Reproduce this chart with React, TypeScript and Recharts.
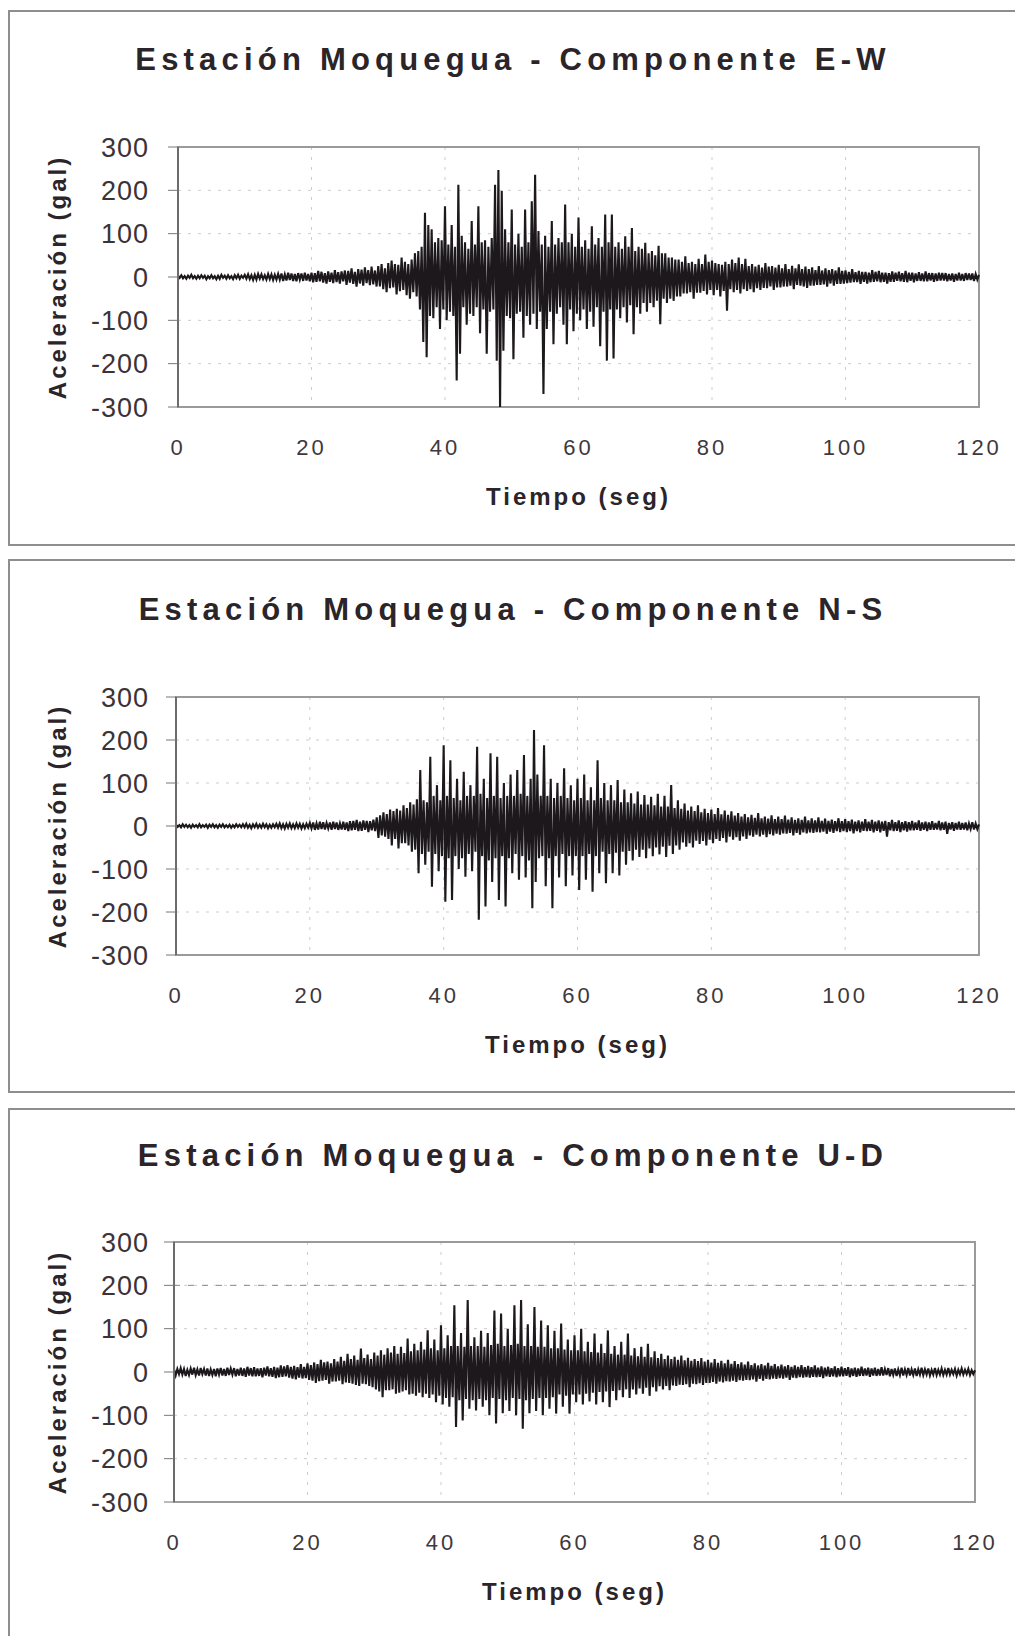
import { LineChart, Line, XAxis, YAxis, CartesianGrid, ReferenceArea, ReferenceLine } from 'recharts'

// sample step of the hand-read traces, in seconds
const STEP = 0.25

const timeTicks = [0, 20, 40, 60, 80, 100, 120]
const accelTicks = [-300, -200, -100, 0, 100, 200, 300]

const titles = [
  'Estación Moquegua - Componente E-W',
  'Estación Moquegua - Componente N-S',
  'Estación Moquegua - Componente U-D',
]

// E-W acceleration (gal), one value every 0.25 s, 5 s per row
const ewValues = [
  3, -2, 4, -3, 2, -4, 3, -2, 5, -3, 2, -4, 3, -3, 4, -2, 3, -5, 2, -3,
  4, -3, 2, -5, 3, -4, 5, -2, 3, -4, 4, -3, 2, -5, 4, -3, 5, -4, 3, -2,
  5, -4, 6, -5, 4, -7, 5, -6, 7, -4, 6, -5, 4, -6, 7, -5, 6, -7, 5, -6,
  7, -6, 8, -9, 6, -8, 10, -7, 8, -9, 7, -10, 9, -6, 8, -9, 10, -8, 7, -10,
  10, -12, 9, -11, 14, -10, 12, -13, 9, -15, 13, -11, 10, -14, 16, -12, 11, -15, 13, -10,
  15, -18, 14, -13, 20, -16, 12, -22, 18, -15, 17, -20, 22, -14, 16, -19, 24, -17, 15, -22,
  25, -22, 30, -28, 20, -35, 32, -26, 38, -24, 30, -40, 28, -33, 45, -30, 35, -42, 30, -50,
  40, -35, 55, -45, 60, -75, 70, -150, 148, -185, 120, -90, 110, -95, 80, -70, 90, -120, 85, -75,
  163, -100, 75, -80, 120, -90, 70, -239, 213, -177, 95, -70, 80, -110, 65, -85, 129, -90, 75, -70,
  163, -130, 80, -75, 85, -177, 70, -80, 90, -75, 213, -193, 247, -300, 199, -170, 110, -90, 80, -95,
  156, -190, 75, -85, 100, -80, 70, -140, 156, -90, 80, -110, 175, -85, 236, -120, 106, -80, 75, -270,
  95, -120, 70, -80, 129, -155, 75, -85, 90, -70, 80, -110, 167, -155, 80, -75, 100, -125, 70, -85,
  137, -100, 70, -75, 85, -120, 65, -80, 117, -115, 75, -70, 90, -160, 70, -80, 144, -193, 80, -75,
  144, -188, 70, -75, 80, -95, 65, -70, 94, -105, 70, -65, 113, -132, 60, -70, 70, -85, 65, -60,
  79, -80, 55, -60, 60, -70, 50, -55, 72, -109, 55, -50, 55, -60, 45, -50, 45, -55, 40, -45,
  40, -45, 35, -38, 48, -38, 32, -35, 35, -50, 30, -36, 42, -36, 30, -32, 52, -40, 35, -30,
  38, -42, 32, -30, 30, -45, 28, -32, 35, -78, 30, -28, 40, -35, 32, -30, 45, -38, 30, -28,
  42, -32, 25, -28, 30, -35, 24, -26, 28, -30, 22, -25, 32, -26, 24, -22, 25, -30, 22, -24,
  28, -24, 20, -22, 30, -22, 18, -20, 26, -28, 20, -18, 29, -20, 18, -22, 24, -25, 18, -20,
  22, -20, 16, -18, 25, -18, 15, -17, 20, -22, 16, -15, 18, -20, 15, -16, 22, -16, 14, -15,
  15, -14, 12, -13, 18, -12, 11, -12, 14, -16, 12, -11, 12, -15, 10, -12, 16, -11, 12, -10,
  14, -12, 10, -11, 10, -15, 9, -11, 13, -11, 10, -9, 12, -10, 9, -11, 14, -12, 10, -9,
  10, -12, 8, -9, 11, -9, 8, -10, 13, -10, 9, -8, 9, -11, 8, -9, 10, -8, 9, -8,
  9, -10, 7, -8, 8, -11, 7, -8, 10, -8, 7, -9, 9, -7, 8, -7, 8, -9, 7, -6,
  5,
]

// N-S acceleration (gal)
const nsValues = [
  3, -2, 2, -3, 4, -2, 3, -3, 2, -4, 3, -2, 2, -3, 4, -3, 2, -2, 3, -4,
  3, -2, 4, -3, 2, -4, 3, -2, 4, -3, 2, -3, 3, -4, 2, -3, 4, -2, 3, -3,
  4, -3, 5, -4, 3, -5, 4, -3, 5, -4, 3, -4, 5, -3, 4, -5, 3, -4, 4, -3,
  5, -4, 6, -5, 4, -6, 5, -4, 6, -5, 4, -5, 6, -4, 5, -6, 4, -5, 5, -4,
  7, -6, 8, -9, 6, -8, 10, -7, 9, -8, 7, -6, 8, -9, 10, -7, 8, -9, 6, -8,
  10, -9, 8, -12, 11, -10, 12, -9, 14, -12, 10, -11, 13, -9, 12, -14, 11, -10, 15, -12,
  20, -28, 25, -22, 32, -25, 28, -30, 38, -45, 35, -30, 40, -52, 36, -40, 48, -40, 42, -45,
  55, -60, 50, -55, 62, -110, 130, -65, 60, -90, 55, -60, 161, -141, 70, -65, 95, -105, 60, -70,
  188, -176, 70, -75, 153, -172, 65, -70, 110, -100, 60, -75, 126, -118, 70, -65, 95, -105, 70, -60,
  184, -218, 75, -70, 110, -187, 65, -80, 169, -130, 70, -75, 161, -172, 65, -70, 100, -187, 70, -75,
  120, -110, 70, -65, 130, -125, 75, -70, 165, -120, 70, -80, 110, -191, 223, -130, 120, -75, 70, -70,
  188, -140, 70, -75, 110, -191, 65, -70, 100, -120, 70, -65, 134, -140, 65, -70, 95, -115, 60, -70,
  110, -149, 65, -70, 120, -125, 60, -65, 90, -153, 60, -70, 153, -110, 65, -60, 100, -133, 60, -65,
  95, -110, 60, -62, 107, -115, 55, -60, 85, -90, 55, -58, 76, -80, 52, -55, 80, -72, 50, -55,
  72, -75, 50, -52, 68, -70, 48, -50, 75, -66, 45, -48, 70, -72, 45, -46, 95, -65, 42, -45,
  60, -55, 40, -38, 52, -48, 36, -40, 45, -50, 35, -34, 48, -42, 32, -35, 40, -45, 30, -32,
  38, -40, 28, -30, 42, -35, 27, -28, 36, -38, 26, -25, 34, -32, 24, -26, 30, -34, 22, -24,
  28, -30, 20, -22, 26, -25, 19, -20, 30, -24, 18, -20, 22, -26, 17, -19, 25, -22, 16, -18,
  22, -20, 16, -17, 24, -18, 15, -16, 20, -22, 14, -16, 18, -20, 14, -15, 22, -17, 13, -15,
  18, -16, 13, -14, 20, -15, 12, -13, 17, -18, 12, -13, 15, -16, 11, -12, 18, -14, 11, -12,
  16, -14, 11, -12, 15, -17, 10, -12, 13, -15, 10, -11, 16, -12, 10, -11, 14, -15, 10, -11,
  13, -15, 10, -11, 12, -25, 9, -10, 14, -12, 9, -11, 13, -14, 9, -10, 11, -13, 9, -10,
  12, -10, 8, -9, 13, -11, 8, -9, 10, -12, 8, -9, 11, -9, 7, -8, 12, -10, 8, -9,
  10, -18, 7, -8, 9, -11, 7, -8, 10, -9, 7, -8, 8, -10, 6, -7, 9, -8, 6, -7,
  4,
]

// U-D acceleration (gal)
const udValues = [
  6, -8, 7, -5, 9, -6, 7, -9, 5, -7, 8, -6, 10, -7, 6, -8, 9, -5, 7, -8,
  8, -9, 6, -7, 7, -10, 8, -6, 9, -8, 7, -9, 10, -7, 8, -6, 9, -10, 7, -8,
  10, -9, 8, -11, 12, -8, 9, -10, 11, -10, 8, -9, 9, -12, 10, -8, 13, -10, 9, -11,
  12, -14, 10, -12, 15, -11, 13, -10, 16, -13, 12, -15, 14, -17, 11, -13, 18, -15, 12, -14,
  20, -18, 16, -20, 22, -25, 18, -21, 28, -20, 22, -18, 24, -27, 20, -22, 30, -22, 24, -20,
  35, -28, 26, -24, 42, -25, 30, -27, 38, -30, 28, -32, 54, -27, 32, -28, 40, -32, 30, -35,
  45, -40, 38, -45, 50, -58, 40, -42, 55, -42, 45, -40, 60, -50, 42, -48, 58, -45, 44, -42,
  77, -52, 48, -50, 65, -55, 50, -48, 70, -58, 52, -50, 96, -60, 55, -52, 75, -70, 50, -55,
  108, -75, 55, -60, 85, -80, 60, -58, 154, -127, 60, -65, 90, -112, 58, -62, 166, -85, 60, -65,
  80, -89, 60, -62, 95, -80, 58, -65, 90, -100, 62, -60, 142, -119, 65, -62, 135, -95, 60, -65,
  100, -90, 62, -60, 154, -100, 65, -62, 166, -131, 60, -65, 110, -95, 60, -62, 150, -90, 58, -60,
  119, -100, 58, -60, 108, -85, 55, -58, 95, -96, 55, -52, 112, -80, 52, -55, 75, -96, 50, -52,
  85, -70, 50, -52, 100, -75, 48, -50, 70, -68, 46, -48, 89, -75, 45, -46, 65, -70, 44, -45,
  96, -81, 42, -44, 60, -65, 40, -42, 70, -58, 40, -40, 89, -60, 38, -40, 55, -52, 36, -38,
  58, -50, 35, -36, 65, -55, 34, -35, 48, -45, 32, -33, 42, -40, 30, -32, 38, -42, 30, -31,
  35, -32, 28, -29, 38, -30, 27, -28, 33, -35, 26, -27, 30, -28, 25, -26, 32, -30, 24, -25,
  28, -25, 22, -23, 30, -27, 21, -22, 26, -24, 20, -21, 28, -22, 19, -20, 25, -23, 18, -19,
  22, -20, 17, -18, 24, -19, 16, -17, 20, -22, 15, -16, 18, -20, 15, -16, 21, -17, 14, -15,
  18, -16, 13, -14, 17, -15, 13, -13, 16, -18, 12, -13, 15, -14, 12, -12, 16, -13, 11, -12,
  14, -13, 11, -11, 15, -12, 10, -11, 13, -14, 10, -10, 12, -11, 9, -10, 13, -12, 9, -10,
  12, -10, 9, -9, 11, -12, 8, -9, 10, -11, 8, -9, 12, -9, 8, -8, 10, -11, 8, -8,
  10, -9, 7, -8, 11, -8, 7, -7, 9, -10, 7, -7, 8, -9, 6, -7, 10, -8, 6, -7,
  9, -8, 6, -7, 8, -9, 6, -6, 10, -7, 6, -6, 8, -8, 5, -6, 9, -7, 5, -6,
  8, -7, 5, -6, 9, -6, 5, -5, 7, -8, 5, -5, 8, -6, 5, -5, 7, -7, 4, -5,
  4,
]

const series = [ewValues, nsValues, udValues]

const panels = [
  { frameTop: 10, frameBottom: 546, plotTop: 147, plotBottom: 407, plotLeft: 178, plotRight: 979, titleY: 60 },
  { frameTop: 559, frameBottom: 1093, plotTop: 697, plotBottom: 955, plotLeft: 176, plotRight: 979, titleY: 610 },
  { frameTop: 1108, frameBottom: 1660, plotTop: 1242, plotBottom: 1502, plotLeft: 174, plotRight: 975, titleY: 1156 },
]

const W = 1015
const CHART_H = 560
const YAXIS_W = 130
const XAXIS_H = 100
const textColor = '#2b2428'

function Panel({ idx }: { idx: number }) {
  const p = panels[idx]
  const data = series[idx].map((v, i) => ({ t: i * STEP, acc: v }))
  const margin = {
    top: p.plotTop - p.frameTop,
    left: p.plotLeft - YAXIS_W,
    right: W - p.plotRight,
    bottom: CHART_H - (p.plotBottom - p.frameTop) - XAXIS_H,
  }
  const midY = (p.plotTop + p.plotBottom) / 2
  return (
    <>
      <div
        style={{
          position: 'absolute', left: 8, top: p.frameTop, width: 1030,
          height: p.frameBottom - p.frameTop, border: '2px solid #8e8e8e', boxSizing: 'border-box',
        }}
      />
      <div
        style={{
          position: 'absolute', left: 13, top: p.titleY - 19, width: 1000, height: 38, lineHeight: '38px',
          textAlign: 'center', fontSize: 31, fontWeight: 'bold', letterSpacing: 5.2, color: textColor,
        }}
      >
        {titles[idx]}
      </div>
      <div style={{ position: 'absolute', left: 0, top: p.frameTop }}>
        <LineChart width={W} height={CHART_H} data={data} margin={margin}>
          <CartesianGrid stroke="#cdcdcd" strokeDasharray="3 7" />
          <XAxis
            dataKey="t" type="number" domain={[0, 120]} ticks={timeTicks} interval={0}
            axisLine={false} tickLine={false} tickSize={0} tickMargin={32} height={XAXIS_H}
            tick={{ fontSize: 22, fill: '#40383c', letterSpacing: 3 }}
          />
          <YAxis
            type="number" domain={[-300, 300]} ticks={accelTicks} interval={0} width={YAXIS_W}
            axisLine={{ stroke: '#6c6c6c', strokeWidth: 2 }} tickLine={{ stroke: '#777' }}
            tickSize={10} tickMargin={p.plotLeft - 159}
            tick={{ fontSize: 27, fill: '#3b3337', letterSpacing: 1 }}
          />
          {idx === 2 && <ReferenceLine y={200} stroke="#8a8a8a" strokeDasharray="6 8" />}
          <ReferenceArea x1={0} x2={120} y1={-300} y2={300} fill="none" stroke="#9a9a9a" strokeWidth={2} />
          <Line
            type="linear" dataKey="acc" stroke="#1d181b" strokeWidth={2.1}
            dot={false} isAnimationActive={false}
          />
        </LineChart>
      </div>
      <div
        style={{
          position: 'absolute', left: (p.plotLeft + p.plotRight) / 2 - 200, top: p.plotBottom + 75,
          width: 400, height: 30, lineHeight: '30px', textAlign: 'center',
          fontSize: 24, fontWeight: 'bold', letterSpacing: 3, color: textColor,
        }}
      >
        Tiempo (seg)
      </div>
      <div
        style={{
          position: 'absolute', left: 58 - 160, top: midY - 15, width: 320, height: 30, lineHeight: '30px',
          textAlign: 'center', fontSize: 24, fontWeight: 'bold', letterSpacing: 3, color: textColor,
          transform: 'rotate(-90deg)',
        }}
      >
        Aceleración (gal)
      </div>
    </>
  )
}

export default function App() {
  return (
    <div
      style={{
        position: 'absolute', left: 0, top: 0, width: W, height: 1636, overflow: 'hidden',
        background: '#fff', fontFamily: 'Arial, "Liberation Sans", sans-serif',
      }}
    >
      <Panel idx={0} />
      <Panel idx={1} />
      <Panel idx={2} />
    </div>
  )
}
